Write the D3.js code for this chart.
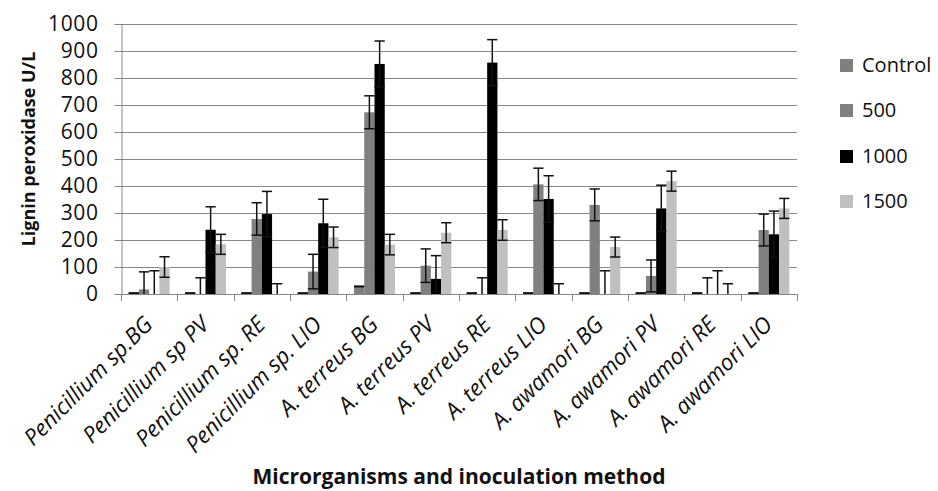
<!DOCTYPE html>
<html>
<head>
<meta charset="utf-8">
<script src="https://cdn.jsdelivr.net/npm/d3@7"></script>
<style>
  html, body { margin: 0; padding: 0; background: #fff; }
  svg { display: block; }
  text { font-family: "Open Sans", "Noto Sans", sans-serif; fill: #111; }
</style>
</head>
<body>
<svg id="chart" width="938" height="491"></svg>
<script>
// Lignin peroxidase activity by microorganism / inoculation method and dose
const categories = [
  "Penicillium sp.BG", "Penicillium sp PV", "Penicillium sp. RE", "Penicillium sp. LIO",
  "A. terreus BG", "A. terreus PV", "A. terreus RE", "A. terreus LIO",
  "A. awamori BG", "A. awamori PV", "A. awamori RE", "A. awamori LIO"
];
const seriesNames = ["Control", "500", "1000", "1500"];
const seriesColors = ["#7f7f7f", "#808080", "#000000", "#c0c0c0"];

const controlValues = [3, 3, 3, 3, 28, 3, 3, 3, 3, 3, 3, 3];
const values500     = [17, 0, 278, 83, 673, 105, 0, 406, 330, 67, 0, 237];
const values1000    = [0, 238, 296, 262, 852, 56, 857, 352, 0, 317, 0, 221];
const values1500    = [100, 184, 0, 210, 183, 227, 237, 0, 174, 418, 0, 317];

const controlErr = [1, 1, 1, 1, 1, 1, 1, 1, 1, 1, 1, 1];
const err500     = [65, 60, 60, 64, 61, 62, 60, 60, 59, 59, 60, 59];
const err1000    = [86, 85, 84, 89, 85, 86, 85, 86, 86, 86, 86, 86];
const err1500    = [38, 37, 38, 38, 38, 37, 38, 38, 37, 37, 38, 37];

const yTicks = [0, 100, 200, 300, 400, 500, 600, 700, 800, 900, 1000];

const seriesValues = [controlValues, values500, values1000, values1500];
const seriesErrors = [controlErr, err500, err1000, err1500];

const plot = { left: 121, right: 797, top: 24, bottom: 294 };
const svg = d3.select("#chart");

const x0 = d3.scaleBand().domain(categories).range([plot.left, plot.right]).padding(0);
const x1 = d3.scaleBand().domain(seriesNames).range([0, x0.bandwidth()])
  .paddingInner(0).paddingOuter(0.75);
const y = d3.scaleLinear().domain([0, 1000]).range([plot.bottom, plot.top]);

const gridColor = "#878787";

// horizontal gridlines
svg.append("g").selectAll("line").data(yTicks.filter(d => d > 0)).join("line")
  .attr("x1", plot.left).attr("x2", plot.right)
  .attr("y1", d => Math.round(y(d)) + 0.5).attr("y2", d => Math.round(y(d)) + 0.5)
  .attr("stroke", gridColor).attr("stroke-width", 1);

// y axis
const yAxis = svg.append("g")
  .attr("transform", `translate(${plot.left + 0.5},0)`)
  .call(d3.axisLeft(y).tickValues(yTicks).tickSize(7).tickPadding(16).tickFormat(d3.format("d")));
yAxis.select(".domain").attr("stroke", gridColor);
yAxis.selectAll(".tick line").attr("stroke", gridColor);
yAxis.selectAll(".tick text")
  .attr("font-size", 21).attr("font-family", "'Open Sans', sans-serif").attr("fill", "#111")
  .attr("letter-spacing", 0.6);

// bars
const rows = categories.map((c, i) => ({
  cat: c,
  items: seriesNames.map((s, k) => ({ s, k, v: seriesValues[k][i], e: seriesErrors[k][i] }))
}));

const groups = svg.append("g").selectAll("g").data(rows).join("g")
  .attr("transform", d => `translate(${x0(d.cat)},0)`);

groups.selectAll("rect").data(d => d.items).join("rect")
  .attr("x", d => x1(d.s))
  .attr("width", x1.bandwidth())
  .attr("y", d => y(d.v))
  .attr("height", d => y(0) - y(d.v))
  .attr("fill", d => seriesColors[d.k]);

// error bars, clipped to the plot area
svg.append("clipPath").attr("id", "plotClip").append("rect")
  .attr("x", plot.left).attr("y", plot.top)
  .attr("width", plot.right - plot.left).attr("height", plot.bottom - plot.top);

const errLayer = svg.append("g").attr("clip-path", "url(#plotClip)");
const errGroups = errLayer.selectAll("g").data(rows).join("g")
  .attr("transform", d => `translate(${x0(d.cat)},0)`);
const capHalf = x1.bandwidth() / 2;
errGroups.each(function (d) {
  const g = d3.select(this);
  d.items.forEach(it => {
    const cx = x1(it.s) + x1.bandwidth() / 2;
    const yTop = y(it.v + it.e), yBot = y(it.v - it.e);
    g.append("line").attr("x1", cx).attr("x2", cx).attr("y1", yTop).attr("y2", yBot)
      .attr("stroke", "#111").attr("stroke-width", 1.5);
    [yTop, yBot].forEach(yy => {
      g.append("line").attr("x1", cx - capHalf).attr("x2", cx + capHalf)
        .attr("y1", yy).attr("y2", yy).attr("stroke", "#111").attr("stroke-width", 1.5);
    });
  });
});

// x axis line and category ticks
svg.append("line").attr("x1", plot.left).attr("x2", plot.right)
  .attr("y1", plot.bottom + 0.5).attr("y2", plot.bottom + 0.5).attr("stroke", gridColor);
const boundaries = categories.map(c => x0(c)).concat([plot.right]);
svg.append("g").selectAll("line").data(boundaries).join("line")
  .attr("x1", d => Math.round(d) + 0.5).attr("x2", d => Math.round(d) + 0.5)
  .attr("y1", plot.bottom).attr("y2", plot.bottom + 7).attr("stroke", gridColor);

// category labels, rotated
svg.append("g").selectAll("text").data(categories).join("text")
  .attr("transform", d => `translate(${x0(d) + x0.bandwidth() / 2 + 5},${326}) rotate(-45)`)
  .attr("text-anchor", "end")
  .attr("font-size", 22.5).attr("font-style", "italic")
  .text(d => d);

// axis titles
svg.append("text")
  .attr("x", 459).attr("y", 484).attr("text-anchor", "middle")
  .attr("font-size", 21).attr("font-weight", "bold")
  .text("Microrganisms and inoculation method");

svg.append("text")
  .attr("transform", "translate(35,149) rotate(-90)")
  .attr("text-anchor", "middle")
  .attr("font-size", 18).attr("font-weight", "bold")
  .text("Lignin peroxidase U/L");

// legend
const legendY = [65, 110, 156, 201];
const legend = svg.append("g").selectAll("g").data(seriesNames).join("g")
  .attr("transform", (d, i) => `translate(840,${legendY[i]})`);
legend.append("rect").attr("x", 0).attr("y", -6).attr("width", 13).attr("height", 13)
  .attr("fill", (d, i) => seriesColors[i]);
legend.append("text").attr("x", 22).attr("y", 0).attr("dy", "0.35em")
  .attr("font-size", 20).text(d => d);
</script>
</body>
</html>
